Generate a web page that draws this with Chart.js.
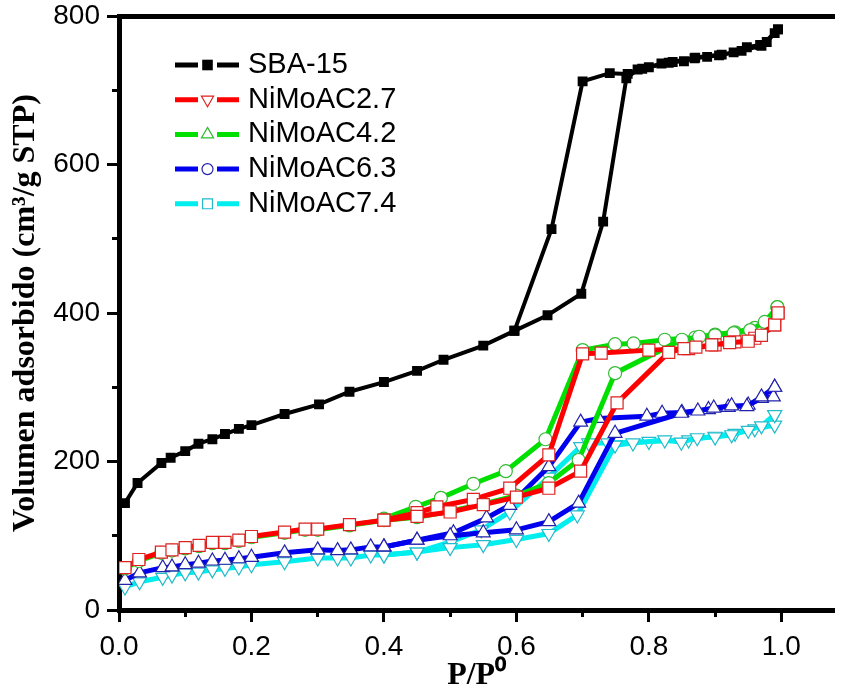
<!DOCTYPE html>
<html>
<head>
<meta charset="utf-8">
<title>Isotermas de adsorción</title>
<script src="https://cdn.jsdelivr.net/npm/chart.js@4.4.1/dist/chart.umd.min.js"></script>
<style>
  body { margin: 0; background: #fff; }
</style>
</head>
<body>
<canvas id="isotherms" width="844" height="689"></canvas>
<script>
// axis ticks
var xMajor = [0, 0.2, 0.4, 0.6, 0.8, 1.0];
var xMinor = [0.1, 0.3, 0.5, 0.7, 0.9];
var yMajor = [0, 200, 400, 600, 800];
var yMinor = [100, 300, 500, 700];

// [P/P0, volumen]
var sbaAds = [[0.009,144],[0.028,171],[0.064,198],[0.078,205],[0.100,214],[0.120,224],[0.141,230],[0.160,237],
  [0.181,244],[0.200,249],[0.250,264],[0.302,277],[0.348,294],[0.400,307],[0.450,322],[0.490,337],[0.550,356],
  [0.597,376],[0.647,397],[0.698,426],[0.731,523],[0.766,716],[0.783,728],[0.800,731],[0.819,736],[0.836,738],
  [0.853,739],[0.869,743],[0.888,745],[0.906,747],[0.928,751],[0.948,758],[0.968,761],[0.978,765],[0.990,777],[0.995,782]];
var sbaDes = [[0.995,782],[0.970,760],[0.940,753],[0.910,748],[0.870,744],[0.830,737],[0.790,729],[0.768,722],
  [0.741,723],[0.700,712],[0.653,513],[0.597,376]];

var ni27Ads = [[0.009,57],[0.030,68],[0.064,78],[0.080,81],[0.100,84],[0.121,87],[0.141,91],[0.160,91],[0.181,94],
  [0.200,99],[0.250,105],[0.281,109],[0.300,109],[0.348,115],[0.400,121],[0.450,126],[0.500,132],[0.550,142],
  [0.600,152],[0.649,164],[0.697,187],[0.752,279],[0.830,347],[0.853,352],[0.871,354],[0.895,357],[0.922,360],
  [0.950,362],[0.970,370],[0.990,384],[0.995,400]];
var ni27Des = [[0.995,400],[0.990,384],[0.960,366],[0.930,361],[0.900,357],[0.860,352],[0.800,350],[0.728,346],
  [0.700,345],[0.649,209],[0.590,164],[0.535,149],[0.480,139],[0.450,131],[0.400,121]];

var ni42Ads = [[0.009,56],[0.030,66],[0.064,77],[0.080,80],[0.100,83],[0.121,86],[0.141,90],[0.160,90],[0.181,93],
  [0.200,98],[0.250,104],[0.281,108],[0.300,108],[0.348,114],[0.400,121],[0.450,125],[0.500,133],[0.550,143],
  [0.600,154],[0.649,171],[0.694,202],[0.749,319],[0.850,364],[0.876,368],[0.900,370],[0.928,373],[0.953,377],
  [0.975,388],[0.994,408]];
var ni42Des = [[0.994,408],[0.990,393],[0.960,380],[0.930,374],[0.900,371],[0.870,367],[0.824,364],[0.777,359],
  [0.749,358],[0.700,350],[0.644,230],[0.584,187],[0.535,170],[0.486,151],[0.448,139],[0.400,123]];

var ni63Ads = [[0.009,40],[0.031,50],[0.066,57],[0.080,58],[0.100,61],[0.120,63],[0.141,66],[0.160,67],[0.181,69],
  [0.200,71],[0.250,77],[0.300,81],[0.330,80],[0.350,81],[0.380,85],[0.400,85],[0.450,94],[0.500,100],[0.550,104],
  [0.600,108],[0.649,119],[0.694,144],[0.749,238],[0.849,265],[0.874,268],[0.898,272],[0.925,275],[0.948,274],
  [0.970,287],[0.990,300]];
var ni63Des = [[0.990,300],[0.988,287],[0.970,285],[0.950,276],[0.920,273],[0.890,270],[0.850,266],[0.820,265],
  [0.797,261],[0.724,258],[0.697,253],[0.649,193],[0.590,141],[0.555,124],[0.505,104],[0.450,94],[0.400,85]];

var ni74Ads = [[0.009,31],[0.031,38],[0.066,44],[0.080,47],[0.100,50],[0.120,51],[0.141,54],[0.160,56],[0.181,58],
  [0.200,61],[0.250,65],[0.300,70],[0.330,70],[0.350,70],[0.380,74],[0.400,74],[0.450,78],[0.500,84],[0.550,88],
  [0.600,95],[0.649,103],[0.692,128],[0.749,222],[0.776,225],[0.824,229],[0.849,226],[0.873,232],[0.900,233],
  [0.925,236],[0.950,242],[0.970,248],[0.990,263]];
var ni74Des = [[0.990,263],[0.990,249],[0.960,244],[0.930,238],[0.900,234],[0.860,229],[0.800,227],[0.738,225],
  [0.709,225],[0.697,220],[0.649,179],[0.590,132],[0.547,108],[0.502,92],[0.450,78],[0.400,74]];

var samples = [
  { name: 'SBA-15',    ads: sbaAds,  des: sbaDes,  line: '#000000', mark: '#000000', fill: '#000000', style: 'rect',     rot: 0,   r: 7,   lw: 4 },
  { name: 'NiMoAC2.7', ads: ni27Ads, des: ni27Des, line: '#ff0000', mark: '#dd2222', fill: '#ffffff', style: 'rect',     rot: 0,   r: 8.5, lw: 5 },
  { name: 'NiMoAC4.2', ads: ni42Ads, des: ni42Des, line: '#00e000', mark: '#33bb33', fill: '#ffffff', style: 'circle',   rot: 0,   r: 6.5, lw: 5 },
  { name: 'NiMoAC6.3', ads: ni63Ads, des: ni63Des, line: '#0000ee', mark: '#2222aa', fill: '#ffffff', style: 'triangle', rot: 0,   r: 8,   lw: 5 },
  { name: 'NiMoAC7.4', ads: ni74Ads, des: ni74Des, line: '#00eeee', mark: '#22bbcc', fill: '#ffffff', style: 'triangle', rot: 180, r: 8,   lw: 5 }
];

// the legend in the figure uses other symbols than the curves
var legendMarks = [
  { style: 'rect', rot: 0, r: 7.5, fill: '#000000', mark: '#000000' },
  { style: 'triangle', rot: 180, r: 7, fill: '#ffffff', mark: '#dd2222' },
  { style: 'triangle', rot: 0, r: 7, fill: '#ffffff', mark: '#33bb33' },
  { style: 'circle', rot: 0, r: 5.5, fill: '#ffffff', mark: '#2222aa' },
  { style: 'rect', rot: 0, r: 7, fill: '#ffffff', mark: '#22bbcc' }
];

function toXY(pts) {
  return pts.map(function (p) { return { x: p[0], y: p[1] }; });
}

var datasets = [];
samples.forEach(function (s, i) {
  [s.ads, s.des].forEach(function (pts, k) {
    datasets.push({
      label: k === 0 ? s.name : '',
      data: toXY(pts),
      showLine: true,
      borderColor: s.line,
      borderWidth: s.lw,
      pointStyle: s.style,
      pointRotation: s.rot,
      pointRadius: s.r,
      pointBorderWidth: i === 0 ? 0 : 1.2,
      pointBorderColor: s.mark,
      pointBackgroundColor: s.fill,
      order: i
    });
  });
});

var sansFont = '"Liberation Sans", Arial, sans-serif';
var serifFont = '"Liberation Serif", "Times New Roman", serif';

var sampleLegend = {
  id: 'sampleLegend',
  afterDraw: function (chart) {
    var ctx = chart.ctx;
    ctx.save();
    ctx.font = '29px ' + sansFont;
    ctx.textBaseline = 'middle';
    samples.forEach(function (s, i) {
      var y = 65 + i * 34.7;
      var m = legendMarks[i];
      ctx.strokeStyle = s.line;
      ctx.lineWidth = 5;
      ctx.beginPath();
      ctx.moveTo(175, y); ctx.lineTo(198, y);
      ctx.moveTo(217, y); ctx.lineTo(239, y);
      ctx.stroke();
      ctx.fillStyle = m.fill;
      ctx.strokeStyle = m.mark;
      ctx.lineWidth = 1.2;
      Chart.helpers.drawPoint(ctx, { pointStyle: m.style, rotation: m.rot, radius: m.r, borderWidth: i === 0 ? 0 : 1.2 }, 207.5, y);
      ctx.fillStyle = '#000';
      ctx.fillText(s.name, 248, y);
    });
    ctx.restore();
  }
};

function setTicks(values) {
  return function (scale) {
    scale.ticks = values.map(function (v) { return { value: v }; });
  };
}

new Chart(document.getElementById('isotherms'), {
  type: 'scatter',
  data: { datasets: datasets },
  plugins: [sampleLegend],
  options: {
    responsive: false,
    animation: false,
    layout: { padding: { top: 16, right: 3, left: 0, bottom: 0 } },
    plugins: { legend: { display: false }, tooltip: { enabled: false } },
    scales: {
      x: {
        type: 'linear', position: 'bottom', weight: 1, min: 0, max: 1.08,
        afterBuildTicks: setTicks(xMajor),
        afterFit: function (s) { s.height = 79; s.paddingLeft = 0; s.paddingRight = 0; },
        border: { display: true, color: '#000', width: 5 },
        grid: { drawOnChartArea: false, drawTicks: true, tickLength: 12, tickWidth: 3, tickColor: '#000' },
        ticks: { color: '#000', padding: 8, maxRotation: 0, font: { family: sansFont, size: 28 },
          callback: function (v) { return v.toFixed(1); } },
        title: { display: true, text: 'P/P⁰', color: '#000', padding: { top: 0, bottom: 0 },
          font: { family: serifFont, size: 32, weight: 'bold', lineHeight: 0.8 } }
      },
      xMinor: {
        type: 'linear', position: 'bottom', weight: 0, min: 0, max: 1.08,
        afterBuildTicks: setTicks(xMinor),
        afterFit: function (s) { s.height = 0; },
        border: { display: false },
        grid: { drawOnChartArea: false, drawTicks: true, tickLength: 7, tickWidth: 3, tickColor: '#000' },
        ticks: { display: false }
      },
      xTop: {
        type: 'linear', position: 'top', min: 0, max: 1.08,
        afterFit: function (s) { s.height = 0; },
        border: { display: true, color: '#000', width: 5 },
        grid: { display: false },
        ticks: { display: false }
      },
      y: {
        type: 'linear', position: 'left', weight: 1, min: 0, max: 800,
        afterBuildTicks: setTicks(yMajor),
        afterFit: function (s) { s.width = 119; s.paddingTop = 0; s.paddingBottom = 0; },
        border: { display: true, color: '#000', width: 5 },
        grid: { drawOnChartArea: false, drawTicks: true, tickLength: 12, tickWidth: 3, tickColor: '#000' },
        ticks: { color: '#000', padding: 7, font: { family: sansFont, size: 28 } },
        title: { display: true, text: 'Volumen adsorbido (cm³/g STP)', color: '#000', padding: { top: 7, bottom: 0 },
          font: { family: serifFont, size: 32, weight: 'bold', lineHeight: 1.2 } }
      },
      yMinor: {
        type: 'linear', position: 'left', weight: 0, min: 0, max: 800,
        afterBuildTicks: setTicks(yMinor),
        afterFit: function (s) { s.width = 0; s.paddingTop = 0; s.paddingBottom = 0; },
        border: { display: false },
        grid: { drawOnChartArea: false, drawTicks: true, tickLength: 7, tickWidth: 3, tickColor: '#000' },
        ticks: { display: false }
      }
    }
  }
});
</script>
</body>
</html>
